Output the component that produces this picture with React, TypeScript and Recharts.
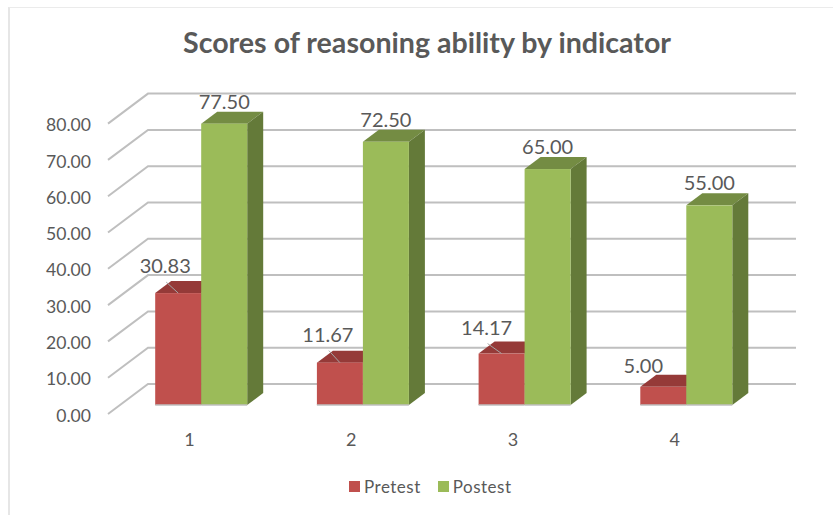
import React from 'react';
import { BarChart, Bar, XAxis, YAxis, CartesianGrid, LabelList, Legend } from 'recharts';

const categories = ['1', '2', '3', '4'];
const pretest = [30.83, 11.67, 14.17, 5.0];
const postest = [77.5, 72.5, 65.0, 55.0];
const yTicks = [0, 10, 20, 30, 40, 50, 60, 70, 80];

const chartData = categories.map((name, i) => ({
  name,
  Pretest: pretest[i],
  Postest: postest[i],
}));

const TEXT = '#595959';
const FONT = 'Lato, "Open Sans", sans-serif';
const GRID = '#BFBFBF';

// fake 3D: how far the back of a bar and the back wall sit from the bar front
const DEPTH_X = 16;
const DEPTH_Y = 12;
const WALL_LEFT = 148;
const WALL_RIGHT = 796;
const WALL_UP = 21;
const FRONT_LEFT = 108;
const FRONT_DOWN = 9;

const Bar3D = (colors: { front: string; top: string; side: string }) => (props: any) => {
  const { x, y, width, height } = props;
  const r = x + width;
  const b = y + height;
  return (
    <g>
      <polygon points={`${x},${y} ${x + DEPTH_X},${y - DEPTH_Y} ${r + DEPTH_X},${y - DEPTH_Y} ${r},${y}`} fill={colors.top} />
      <polygon points={`${r},${y} ${r + DEPTH_X},${y - DEPTH_Y} ${r + DEPTH_X},${b - DEPTH_Y} ${r},${b}`} fill={colors.side} />
      <rect x={x} y={y} width={width} height={height} fill={colors.front} />
      <line x1={x} y1={b} x2={r} y2={b} stroke={GRID} strokeWidth={1.5} />
    </g>
  );
};

const WallLine = (props: any) => {
  const { y1 } = props;
  const back = y1 - WALL_UP;
  return (
    <polyline
      key={`wall-${y1}`}
      points={`${FRONT_LEFT},${y1 + FRONT_DOWN} ${WALL_LEFT},${back} ${WALL_RIGHT},${back}`}
      fill="none"
      stroke={GRID}
      strokeWidth={2}
    />
  );
};

const YTick = (props: any) => {
  const { y, payload } = props;
  return (
    <text x={91} y={y + FRONT_DOWN + 1.5} dy="0.35em" textAnchor="end" fontSize={17.6} fill={TEXT} fontFamily={FONT}>
      {Number(payload.value).toFixed(2)}
    </text>
  );
};

const XTick = (props: any) => {
  const { x, y, payload } = props;
  return (
    <text x={x - 12} y={y} dy="0.35em" textAnchor="middle" fontSize={18} fill={TEXT} fontFamily={FONT}>
      {payload.value}
    </text>
  );
};

// pretest labels sit up and to the left with a small leader line
const pretestNudgeX = [-13, -12, -15, -20];
const pretestNudgeY = [-27, -28, -26, -21];

const PretestLabel = (props: any) => {
  const { x, y, width, value, index } = props;
  const cx = x + width / 2;
  const lx = cx + pretestNudgeX[index];
  const ly = y + pretestNudgeY[index];
  return (
    <g>
      {value > 6 && <line x1={lx + 1} y1={ly + 16} x2={cx} y2={y} stroke="#A6A6A6" strokeWidth={1} />}
      <text x={lx} y={ly} dy="0.35em" textAnchor="middle" fontSize={20} fill={TEXT} fontFamily={FONT}>
        {Number(value).toFixed(2)}
      </text>
    </g>
  );
};

const PostestLabel = (props: any) => {
  const { x, y, width, value } = props;
  return (
    <text x={x + width / 2} y={y - 22} dy="0.35em" textAnchor="middle" fontSize={20} fill={TEXT} fontFamily={FONT}>
      {Number(value).toFixed(2)}
    </text>
  );
};

const LegendBox = ({ payload }: any) => (
  <div style={styles.legend}>
    {(payload || []).map((entry: any) => (
      <span key={entry.value} style={styles.legendItem}>
        <span style={{ ...styles.legendSwatch, backgroundColor: entry.color }} />
        {entry.value}
      </span>
    ))}
  </div>
);

const App: React.FC = () => (
  <div style={styles.page}>
    <div style={styles.frame} />
    <div style={styles.title}>Scores of reasoning ability by indicator</div>
    <div style={styles.chart}>
      <BarChart
        width={833}
        height={515}
        data={chartData}
        margin={{ top: 114.6, right: 65.5, bottom: 0, left: 60.7 }}
        barGap={0}
        barCategoryGap={34.5}
      >
        <CartesianGrid horizontal={WallLine} vertical={false} />
        <XAxis
          dataKey="name"
          axisLine={false}
          tickLine={false}
          height={110}
          tickMargin={0}
          tick={(p: any) => <XTick {...p} y={440} />}
        />
        <YAxis width={60} domain={[0, 80]} ticks={yTicks} axisLine={false} tickLine={false} tick={YTick} />
        <Legend content={LegendBox} itemSorter={null} wrapperStyle={{ left: 0, top: 0, width: 833 }} />
        <Bar
          dataKey="Pretest"
          fill="#C0504D"
          isAnimationActive={false}
          shape={Bar3D({ front: '#C0504D', top: '#953A38', side: '#7F322F' })}
        >
          <LabelList dataKey="Pretest" content={PretestLabel} />
        </Bar>
        <Bar
          dataKey="Postest"
          fill="#9BBB59"
          isAnimationActive={false}
          shape={Bar3D({ front: '#9BBB59', top: '#748C43', side: '#647A39' })}
        >
          <LabelList dataKey="Postest" content={PostestLabel} />
        </Bar>
      </BarChart>
    </div>
  </div>
);

const styles: Record<string, React.CSSProperties> = {
  page: {
    position: 'absolute',
    left: 0,
    top: 0,
    width: 833,
    height: 515,
    background: '#fff',
    overflow: 'hidden',
  },
  frame: {
    position: 'absolute',
    left: 8,
    top: 7,
    width: 900,
    height: 600,
    borderLeft: '2px solid #E6E6E6',
    borderTop: '1.5px solid #EBEBEB',
  },
  chart: { position: 'absolute', left: 0, top: 0 },
  title: {
    position: 'absolute',
    left: 0,
    top: 25,
    width: 854,
    textAlign: 'center',
    fontFamily: FONT,
    fontSize: 28.6,
    fontWeight: 700,
    color: TEXT,
  },
  legend: {
    position: 'absolute',
    left: 349,
    top: 476,
    display: 'flex',
    gap: 17,
    fontFamily: FONT,
    fontSize: 17,
    letterSpacing: '0.5px',
    color: TEXT,
    whiteSpace: 'nowrap',
  },
  legendItem: { display: 'flex', alignItems: 'center', gap: 4 },
  legendSwatch: { display: 'inline-block', width: 11, height: 11 },
};

export default App;
